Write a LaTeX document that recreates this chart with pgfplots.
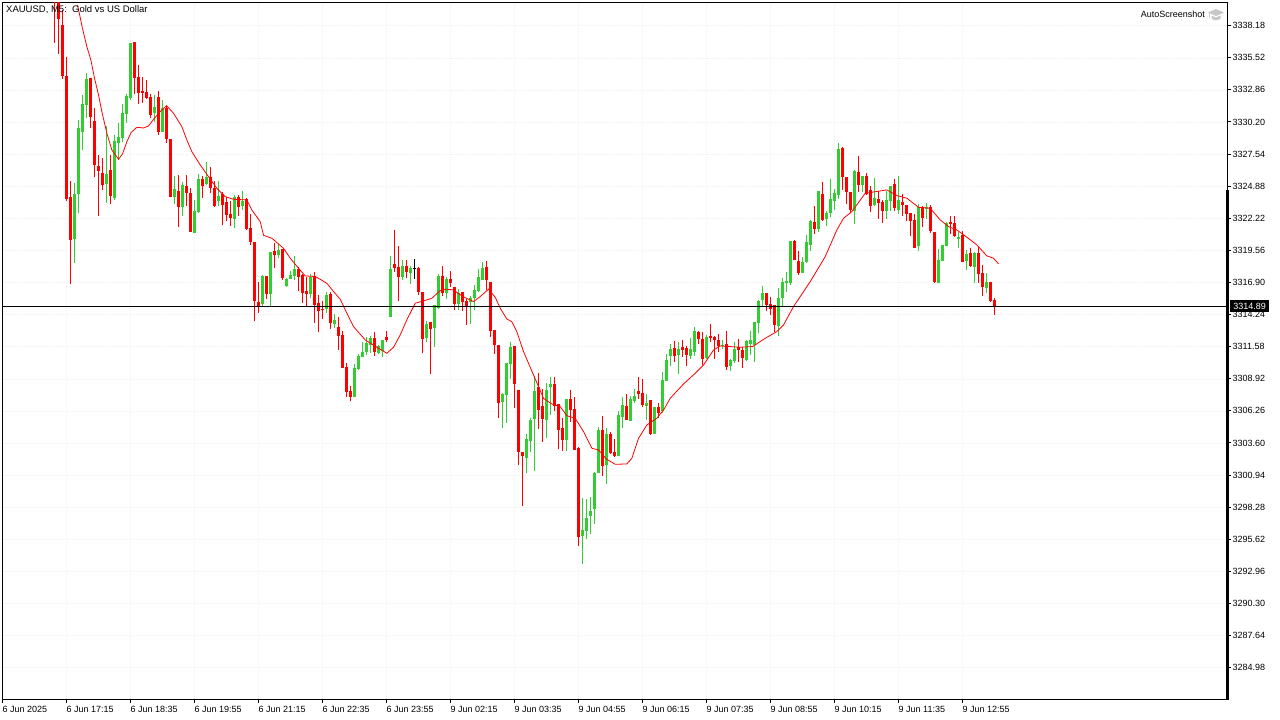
\documentclass[border=0pt]{standalone}
\usepackage{pgfplots}
\usepackage{pgfplotstable}
\usepackage{fontspec}
\setmainfont{Liberation Sans}
\pgfplotsset{compat=1.18}
\definecolor{bull}{HTML}{32CD32}
\definecolor{bear}{HTML}{FF0000}
\pgfplotstableread{
i h t b l
0 3342.00 3341.00 3340.50 3336.77
1 3342.00 3340.90 3338.76 3335.84
2 3339.50 3338.24 3334.01 3333.79
3 3335.61 3334.01 3323.79 3323.66
4 3325.31 3323.99 3320.42 3316.78
9 3333.85 3333.85 3330.62 3329.70
10 3331.36 3330.28 3326.64 3325.64
11 3327.47 3326.55 3326.14 3322.41
12 3327.22 3325.98 3324.98 3324.57
14 3327.47 3326.22 3324.07 3323.41
20 3336.83 3336.83 3333.85 3332.52
21 3334.92 3333.93 3332.60 3331.69
22 3333.93 3332.77 3332.60 3331.78
23 3333.68 3332.69 3332.19 3332.11
24 3332.52 3332.27 3330.78 3330.53
26 3332.77 3332.27 3329.37 3329.12
28 3331.53 3331.36 3328.79 3328.46
29 3328.79 3328.79 3323.99 3323.99
31 3325.81 3324.48 3323.16 3321.50
33 3325.81 3324.90 3324.32 3323.24
34 3324.73 3324.32 3321.09 3321.09
37 3325.73 3325.48 3324.90 3323.90
39 3326.47 3325.64 3324.73 3324.32
40 3325.31 3324.73 3323.24 3323.16
42 3324.40 3324.23 3323.32 3321.67
43 3323.99 3323.58 3322.50 3322.00
44 3323.66 3322.58 3322.25 3321.58
46 3324.15 3323.99 3323.16 3322.41
48 3323.90 3323.82 3321.34 3321.25
49 3322.58 3321.42 3320.26 3320.01
50 3320.29 3320.29 3315.37 3313.71
51 3316.94 3315.29 3314.96 3314.38
53 3317.44 3317.44 3315.95 3315.54
55 3320.18 3319.51 3319.18 3318.10
57 3319.68 3319.68 3317.28 3317.11
61 3318.19 3318.02 3317.36 3316.20
62 3317.61 3317.52 3316.03 3315.20
63 3317.36 3316.20 3315.95 3314.96
65 3317.77 3317.44 3315.04 3313.55
66 3315.87 3315.20 3314.54 3312.80
67 3315.37 3314.66 3314.58 3313.88
69 3316.12 3315.95 3313.55 3313.05
71 3314.04 3313.22 3312.47 3311.31
72 3312.88 3312.55 3309.82 3309.82
73 3310.23 3309.90 3307.83 3307.42
74 3308.33 3307.91 3307.42 3307.08
80 3312.80 3312.30 3311.14 3310.81
83 3312.88 3312.39 3312.14 3311.97
85 3321.25 3318.44 3318.10 3317.77
86 3319.93 3318.19 3317.36 3315.37
88 3318.77 3318.27 3317.77 3317.28
91 3318.19 3318.10 3316.12 3315.87
92 3316.12 3316.12 3312.22 3311.06
94 3313.63 3313.63 3313.05 3309.32
97 3318.27 3317.44 3316.03 3315.78
99 3317.86 3317.19 3316.86 3316.53
100 3316.53 3316.53 3315.12 3314.62
102 3316.12 3316.12 3315.29 3314.54
103 3315.54 3315.37 3314.87 3313.38
108 3318.68 3318.18 3317.10 3316.28
109 3316.94 3316.94 3312.88 3312.38
110 3312.96 3312.96 3311.72 3310.97
111 3311.72 3311.72 3306.91 3305.67
115 3311.64 3311.64 3308.49 3306.50
116 3307.99 3307.99 3302.85 3301.77
117 3302.85 3302.85 3302.52 3298.38
121 3309.40 3308.24 3306.33 3304.76
122 3308.07 3306.66 3305.59 3303.68
125 3309.07 3308.49 3306.66 3306.25
126 3306.83 3306.83 3304.68 3303.10
127 3305.67 3304.84 3303.85 3302.94
129 3307.99 3307.24 3306.33 3305.34
130 3307.41 3306.42 3303.02 3303.02
131 3303.27 3303.18 3295.81 3295.06
137 3305.84 3304.68 3301.69 3300.86
139 3304.51 3304.34 3302.77 3302.69
140 3303.93 3302.85 3302.52 3302.44
143 3307.66 3306.66 3305.50 3305.50
146 3309.07 3307.91 3307.66 3307.24
147 3308.90 3307.74 3306.75 3306.58
149 3307.16 3307.16 3304.34 3304.26
151 3306.91 3306.58 3306.08 3305.67
155 3312.05 3311.47 3310.81 3310.31
157 3312.13 3311.55 3311.30 3310.72
158 3311.64 3311.47 3310.89 3309.98
161 3312.88 3312.80 3312.22 3311.80
162 3312.80 3312.22 3310.56 3310.06
164 3313.46 3312.47 3312.30 3311.97
165 3312.47 3312.38 3312.13 3310.56
166 3312.63 3312.13 3311.64 3311.14
168 3312.88 3311.80 3309.90 3309.65
171 3312.22 3311.55 3311.30 3310.31
172 3311.56 3311.31 3310.65 3309.82
178 3316.03 3316.03 3315.04 3314.54
179 3315.70 3315.12 3314.71 3314.21
180 3315.04 3315.04 3313.38 3312.80
185 3320.43 3320.34 3318.77 3318.77
186 3319.51 3318.69 3317.69 3317.53
190 3323.24 3321.92 3321.34 3320.92
192 3325.23 3324.24 3322.08 3322.00
197 3328.13 3328.05 3325.65 3324.57
198 3325.65 3325.65 3324.40 3323.41
199 3324.40 3324.40 3322.91 3322.75
201 3327.39 3326.06 3324.98 3324.40
203 3325.98 3325.73 3324.24 3324.15
204 3324.90 3324.57 3323.24 3322.75
206 3324.49 3323.82 3323.49 3322.17
207 3323.74 3323.57 3322.83 3321.83
210 3325.48 3325.07 3323.08 3322.83
212 3324.24 3323.57 3323.33 3322.41
213 3323.33 3323.33 3322.58 3322.00
214 3322.66 3322.66 3322.00 3320.76
215 3322.58 3322.08 3319.76 3319.76
217 3323.24 3323.16 3322.25 3321.50
219 3323.33 3323.16 3321.17 3321.01
220 3321.09 3321.09 3316.95 3316.86
224 3322.41 3321.92 3321.75 3320.92
225 3322.41 3321.83 3320.76 3320.67
227 3321.17 3320.84 3318.60 3318.60
229 3319.76 3319.35 3318.27 3318.19
231 3319.84 3319.35 3317.61 3316.86
232 3318.35 3317.69 3316.53 3315.79
234 3316.95 3316.95 3315.37 3315.29
235 3315.62 3315.45 3314.96 3314.21
236 3314.93 3314.93 3314.85 3314.85
}\redbars
\pgfplotstableread{
i h t b l
5 3325.15 3324.23 3320.53 3318.52
6 3330.37 3329.70 3324.23 3322.66
7 3332.44 3331.69 3329.37 3327.88
8 3334.26 3333.76 3331.61 3330.53
13 3329.87 3325.89 3325.06 3323.49
15 3329.12 3328.63 3323.90 3323.74
16 3330.12 3328.96 3328.46 3327.05
17 3331.69 3330.95 3328.88 3328.54
18 3332.52 3332.36 3330.86 3330.12
19 3336.75 3336.75 3332.19 3332.02
25 3332.44 3331.45 3330.95 3330.20
27 3332.02 3331.36 3329.37 3329.37
30 3325.73 3324.65 3323.99 3323.41
32 3325.23 3324.98 3323.16 3322.41
35 3323.74 3322.83 3321.00 3321.00
36 3325.89 3325.48 3322.75 3322.66
38 3326.87 3325.64 3325.06 3324.98
41 3325.31 3324.07 3323.66 3323.24
45 3324.15 3323.99 3322.16 3321.42
47 3324.48 3323.66 3323.24 3322.91
52 3317.52 3317.44 3315.12 3314.96
54 3319.43 3319.43 3315.95 3314.96
56 3320.09 3319.60 3319.18 3318.93
58 3317.28 3317.19 3316.61 3316.53
59 3317.86 3317.52 3317.19 3317.19
60 3319.10 3318.02 3317.44 3317.11
64 3317.61 3317.36 3315.95 3315.62
68 3316.12 3315.87 3314.71 3314.38
70 3314.29 3313.80 3313.46 3313.13
75 3310.15 3309.82 3307.42 3307.42
76 3310.98 3310.81 3309.74 3309.65
77 3311.97 3311.14 3310.73 3310.73
78 3312.39 3311.89 3311.14 3310.90
79 3312.47 3312.30 3311.72 3311.06
81 3311.72 3311.64 3311.06 3310.98
82 3312.14 3312.14 3311.23 3310.73
84 3319.10 3318.02 3314.04 3314.04
87 3318.77 3318.27 3317.36 3317.11
89 3318.27 3318.10 3317.69 3316.78
93 3313.71 3313.46 3312.30 3311.97
95 3315.04 3315.04 3313.13 3311.56
96 3317.61 3317.44 3314.79 3314.71
98 3317.36 3317.19 3316.03 3315.54
101 3316.36 3316.03 3315.12 3314.62
104 3315.78 3315.62 3315.29 3313.46
105 3316.70 3316.28 3315.62 3314.62
106 3318.02 3317.36 3316.20 3316.12
107 3318.60 3318.10 3317.11 3317.10
112 3307.74 3307.66 3307.00 3304.84
113 3310.23 3310.23 3307.58 3305.26
114 3311.97 3311.55 3310.15 3308.90
118 3304.34 3303.93 3302.36 3301.11
119 3305.67 3305.50 3303.76 3302.85
120 3309.15 3307.91 3305.59 3301.28
123 3308.57 3307.99 3305.50 3304.01
124 3309.07 3308.49 3308.24 3305.92
128 3307.24 3307.24 3303.85 3302.94
132 3299.04 3296.39 3295.89 3293.57
133 3298.96 3297.38 3296.31 3295.64
134 3299.12 3297.96 3297.55 3296.06
135 3301.20 3301.11 3298.13 3296.89
136 3304.92 3304.68 3301.11 3301.11
138 3304.84 3304.34 3301.77 3300.20
141 3306.25 3305.92 3302.52 3302.52
142 3307.41 3306.75 3305.75 3304.84
144 3307.49 3307.24 3305.42 3305.42
145 3308.07 3307.49 3307.08 3306.91
148 3307.66 3306.91 3306.66 3305.50
150 3306.58 3306.58 3304.34 3304.34
152 3309.48 3308.82 3306.25 3306.08
153 3310.97 3310.48 3308.74 3308.74
154 3311.80 3311.39 3310.81 3309.98
156 3311.97 3311.39 3310.89 3309.32
159 3312.30 3311.39 3310.81 3310.56
160 3313.21 3312.88 3311.14 3310.81
163 3312.55 3312.38 3310.64 3310.56
167 3312.13 3311.72 3311.64 3311.39
169 3310.56 3310.48 3309.98 3309.56
170 3311.97 3311.39 3310.39 3310.23
173 3312.14 3312.06 3310.48 3310.40
174 3312.89 3312.14 3311.81 3310.90
175 3313.63 3313.63 3311.73 3310.32
176 3315.45 3315.37 3313.55 3312.72
177 3316.61 3316.03 3315.45 3314.87
181 3316.45 3315.62 3313.30 3312.47
182 3317.28 3316.95 3315.62 3314.87
183 3317.77 3317.03 3316.86 3316.12
184 3320.34 3320.34 3316.86 3316.70
187 3319.02 3318.60 3317.69 3317.69
188 3320.84 3320.26 3318.60 3318.52
189 3322.08 3322.00 3320.01 3319.51
191 3324.49 3324.49 3321.34 3321.09
193 3322.83 3322.66 3322.17 3321.59
194 3325.48 3323.82 3322.66 3322.33
195 3324.65 3324.32 3323.66 3322.91
196 3328.46 3327.97 3324.15 3323.82
200 3326.23 3326.14 3322.83 3321.75
202 3325.73 3325.73 3324.98 3324.40
205 3325.56 3323.91 3323.33 3323.24
208 3324.49 3323.74 3322.83 3322.17
209 3324.90 3324.90 3323.66 3322.83
211 3325.73 3323.74 3322.91 3322.58
216 3323.41 3323.16 3319.93 3319.51
218 3323.49 3323.16 3323.00 3322.17
221 3319.68 3318.77 3316.86 3316.86
222 3320.01 3320.01 3318.69 3318.69
223 3321.92 3321.83 3319.93 3319.93
226 3321.09 3320.67 3320.51 3319.76
228 3319.60 3319.27 3318.69 3317.94
230 3319.43 3319.35 3318.19 3316.86
233 3317.69 3316.95 3316.45 3316.03
}\greenbars
\pgfplotstableread{
i h t b l
90 3318.85 3318.12 3318.04 3317.19
}\blackbars
\pgfplotstableread{
i p
5.76 3339.90
6.99 3337.96
8.09 3336.44
9.09 3335.34
10.01 3333.82
11.01 3332.44
11.84 3331.06
13.09 3329.26
14.34 3327.88
16.01 3327.11
17.01 3327.55
18.09 3328.57
19.18 3329.34
20.59 3329.76
22.26 3329.70
23.51 3329.87
24.76 3330.42
26.43 3331.06
28.01 3331.55
29.76 3330.92
31.84 3329.81
33.09 3328.71
34.34 3327.74
36.43 3326.64
38.51 3325.67
40.59 3324.70
42.68 3324.01
44.76 3323.79
48.09 3323.74
49.34 3322.91
51.43 3321.94
52.26 3320.81
54.34 3320.56
57.26 3319.73
58.93 3318.91
61.01 3318.08
62.68 3317.44
65.18 3317.39
66.43 3317.16
68.09 3316.83
69.76 3316.14
71.43 3315.51
73.09 3314.35
74.76 3313.24
77.68 3312.14
80.59 3311.53
83.09 3311.03
84.76 3311.53
86.43 3312.55
88.09 3313.80
90.18 3315.18
92.26 3315.37
94.34 3315.59
96.43 3316.23
98.09 3316.34
99.76 3316.28
101.84 3315.78
104.76 3315.31
106.43 3315.73
108.51 3316.34
110.18 3315.67
111.43 3314.76
113.09 3313.87
114.34 3313.65
115.59 3312.82
117.26 3311.17
119.76 3309.23
122.26 3307.30
124.34 3306.83
126.43 3306.61
128.09 3305.86
130.18 3305.64
132.26 3304.54
134.34 3303.16
136.01 3303.02
138.09 3302.24
140.18 3301.83
143.09 3301.86
144.34 3302.33
146.01 3303.98
148.09 3305.09
150.59 3305.64
152.26 3306.33
153.93 3307.30
157.26 3308.49
160.18 3309.37
162.26 3310.06
164.76 3311.30
166.43 3311.64
171.43 3311.53
174.59 3311.59
177.26 3312.19
180.59 3312.83
182.26 3313.38
184.76 3314.90
188.93 3316.97
192.68 3319.04
195.59 3321.25
197.26 3322.22
199.34 3322.77
202.68 3324.29
208.09 3324.57
210.59 3324.10
213.09 3323.88
216.01 3323.13
218.93 3323.05
221.43 3322.08
223.51 3321.53
225.59 3321.25
228.09 3320.65
230.59 3320.01
233.09 3319.10
234.76 3318.91
236.01 3318.44
}\maline
\newcommand{\candles}[2]{%
  \addplot[draw=none, mark=none, forget plot,
    error bars/.cd, y dir=both, y explicit, error mark=none,
    error bar style={draw=#2, solid, line width=1pt}]
    table[x=i, y=t, y error plus expr=\thisrow{h}-\thisrow{t}, y error minus expr=\thisrow{t}-\thisrow{l}] {#1};
  \addplot[draw=none, mark=none, forget plot,
    error bars/.cd, y dir=plus, y explicit, error mark=none,
    error bar style={draw=#2, solid, line width=3pt}]
    table[x=i, y=b, y error plus expr=\thisrow{t}-\thisrow{b}, y error minus expr=0] {#1};
}
\begin{document}
\begin{tikzpicture}[x=1pt,y=1pt]
\path[use as bounding box, fill=white] (0,0) rectangle (1280,720);
\begin{axis}[
  at={(2.5pt,20.5pt)}, anchor=south west,
  scale only axis, width=1225pt, height=697pt,
  xmin=-13, xmax=293.25, ymin=3282.34, ymax=3340.10,
  axis line style={line width=1pt, black},
  tick style={black, line width=1pt},
  major tick length=4pt,
  tick align=outside,
  xtick pos=bottom, ytick pos=right,
  yticklabel pos=right,
  grid=major,
  grid style={densely dotted, line width=0.5pt, black!4},
  xtick={-13,3,19,35,51,67,83,99,115,131,147,163,179,195,211,227},
  xticklabels={6 Jun 2025,6 Jun 17:15,6 Jun 18:35,6 Jun 19:55,6 Jun 21:15,6 Jun 22:35,6 Jun 23:55,9 Jun 02:15,9 Jun 03:35,9 Jun 04:55,9 Jun 06:15,9 Jun 07:35,9 Jun 08:55,9 Jun 10:15,9 Jun 11:35,9 Jun 12:55},
  xticklabel style={anchor=north west, font=\fontsize{9}{10}\selectfont, inner sep=0pt, xshift=0pt, yshift=-3pt},
  ytick={3284.98,3287.64,3290.30,3292.96,3295.62,3298.28,3300.94,3303.60,3306.26,3308.92,3311.58,3314.24,3316.90,3319.56,3322.22,3324.88,3327.54,3330.20,3332.86,3335.52,3338.18},
  yticklabel style={anchor=west, font=\fontsize{9}{10}\selectfont, inner sep=0pt, xshift=1pt,
    /pgf/number format/assume math mode=true,
    /pgf/number format/fixed, /pgf/number format/fixed zerofill,
    /pgf/number format/precision=2, /pgf/number format/1000 sep={}},
  clip=true,
]
\candles{\greenbars}{bull}
\candles{\redbars}{bear}
\candles{\blackbars}{black}
\addplot[bear, line width=0.8pt, forget plot] table[x=i, y=p] {\maline};
\addplot[black, line width=1pt, forget plot] coordinates {(-13,3314.89) (293.25,3314.89)};
\end{axis}
% heavy lower part of the price-scale rule
\fill[black] (1226,20) rectangle (1229,530);
% text
\node[anchor=west, inner sep=0pt, font=\fontsize{9.5}{10}\selectfont] at (6,710.5) {XAUUSD, M5:\ \ Gold vs US Dollar};
\node[anchor=east, inner sep=0pt, font=\fontsize{9}{10}\selectfont] at (1205,706) {AutoScreenshot};
\node[anchor=west, fill=black, text=white, inner sep=0pt, minimum width=39pt, minimum height=12pt, font=\fontsize{9}{10}\selectfont] at (1230,413.5) {3314.89};
% graduate-cap mark
\fill[black!22] (1208,707.5) -- (1216,711) -- (1224,707.5) -- (1216,704) -- cycle;
\fill[black!22] (1211.5,704.5) -- (1216,702.5) -- (1220.5,704.5) -- (1220.5,701) -- (1216,699.5) -- (1211.5,701) -- cycle;
\draw[black!22, line width=0.7pt] (1209.5,707) -- (1209.5,702);
\end{tikzpicture}
\end{document}
